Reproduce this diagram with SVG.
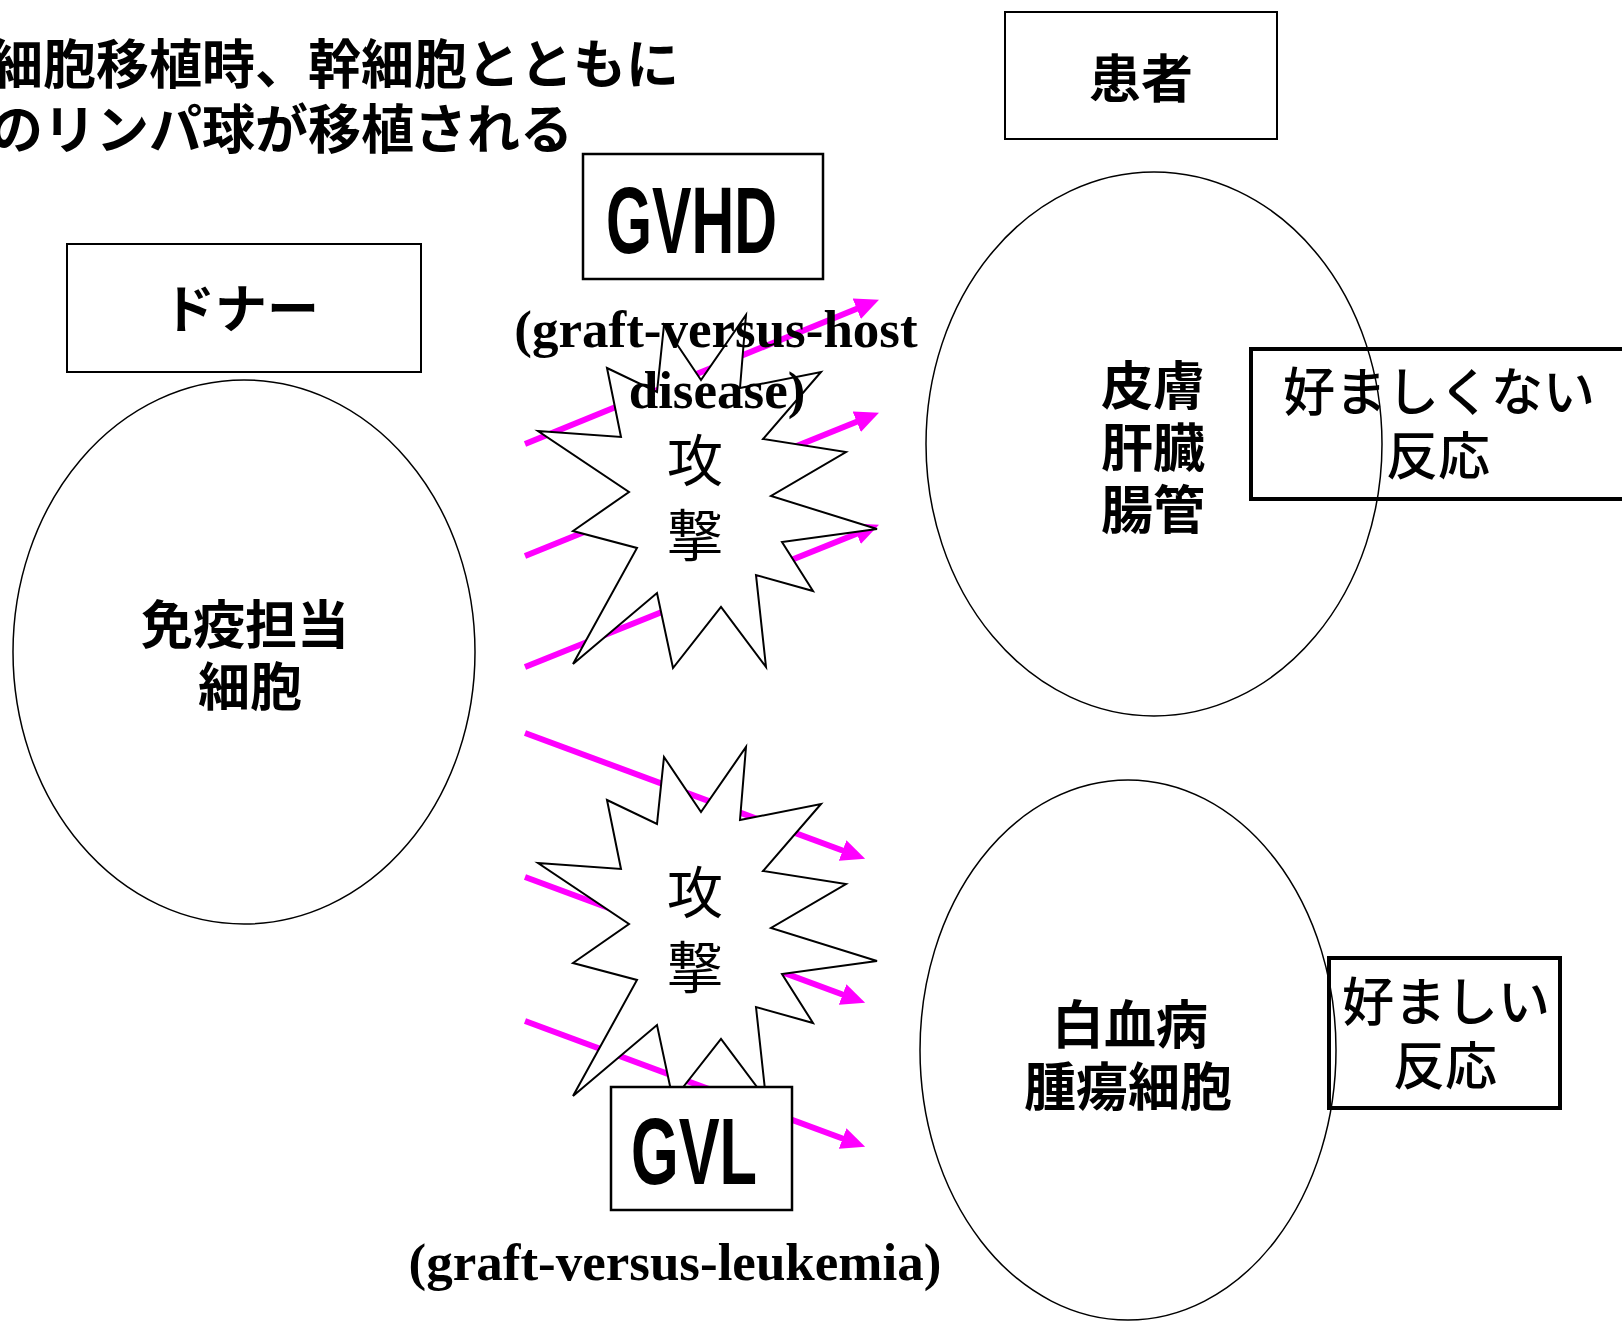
<svg xmlns="http://www.w3.org/2000/svg" width="1622" height="1323" viewBox="0 0 1622 1323">
<style>
.jp{font-family:"Noto Sans CJK JP","Noto Sans CJK SC",sans-serif;font-weight:bold;font-size:52px;fill:#000;text-anchor:middle}
.jpm{font-family:"Noto Sans CJK JP","Noto Sans CJK SC",sans-serif;font-weight:500;font-size:52px;fill:#000;text-anchor:middle}
.atk{font-family:"Noto Sans CJK JP","Noto Sans CJK SC",sans-serif;font-weight:normal;font-size:56px;fill:#000;text-anchor:middle}
.en{font-family:"Liberation Serif","Times New Roman",serif;font-weight:bold;font-size:53px;fill:#000;text-anchor:middle}
.abbr{font-family:"Liberation Sans",Arial,sans-serif;font-weight:bold;font-size:95px;fill:#000}
.box{fill:#fff;stroke:#000;stroke-width:2}
.tbox{fill:none;stroke:#000;stroke-width:4}
.ell{fill:none;stroke:#000;stroke-width:1.5}
.star{fill:#fff;stroke:#000;stroke-width:2;stroke-linejoin:miter}
.arr{stroke:#ff00ff;stroke-width:6;fill:none;marker-end:url(#ah)}
</style>
<defs>
<marker id="ah" markerUnits="userSpaceOnUse" viewBox="0 0 24 22" markerWidth="24" markerHeight="22" refX="10" refY="11" orient="auto">
<path d="M0,0 L24,11 L0,22 z" fill="#ff00ff"/>
</marker>
<polygon id="burst" points="607,368 657,392 664,325 701,380 746,315 740,388 821,372 763,439 846,452 771,496 877,529 782,542 813,591 756,575 766,667 721,607 673,668 657,593 573,664 637,548 573,531 629,492 538,431 621,437"/>
</defs>
<rect width="1622" height="1323" fill="#fff"/>

<g id="title">
<text class="jp" style="text-anchor:start;font-size:53px" x="-10" y="84">細胞移植時、幹細胞とともに</text>
<text class="jp" style="text-anchor:start;font-size:53px" x="-10" y="149">のリンパ球が移植される</text>
</g>

<g id="connectors">
<line class="arr" x1="525" y1="444" x2="866" y2="305"/>
<line class="arr" x1="525" y1="556" x2="866" y2="418"/>
<line class="arr" x1="525" y1="667" x2="866" y2="530"/>
<line class="arr" x1="525" y1="733" x2="852" y2="854"/>
<line class="arr" x1="525" y1="877" x2="852" y2="998"/>
<line class="arr" x1="525" y1="1021" x2="852" y2="1142"/>
</g>

<g id="donor-label">
<rect class="box" x="67" y="244" width="354" height="128"/>
<text class="jp" x="241" y="328">ドナー</text>
</g>

<g id="donor-cells">
<ellipse class="ell" cx="244" cy="652" rx="231" ry="272"/>
<text class="jp" x="245" y="644">免疫担当</text>
<text class="jp" x="250" y="706">細胞</text>
</g>

<g id="patient-label">
<rect class="box" x="1005" y="12" width="272" height="127"/>
<text class="jp" x="1141" y="98">患者</text>
</g>

<g id="organs">
<ellipse class="ell" cx="1154" cy="444" rx="228" ry="272"/>
<text class="jp" x="1153" y="405">皮膚</text>
<text class="jp" x="1153" y="467">肝臓</text>
<text class="jp" x="1153" y="529">腸管</text>
</g>

<g id="unfavorable">
<rect class="tbox" x="1251" y="349" width="380" height="150"/>
<text class="jpm" x="1439" y="411">好ましくない</text>
<text class="jpm" x="1438" y="475">反応</text>
</g>

<g id="leukemia">
<ellipse class="ell" cx="1128" cy="1050" rx="208" ry="270"/>
<text class="jp" x="1130" y="1044">白血病</text>
<text class="jp" x="1128" y="1106">腫瘍細胞</text>
</g>

<g id="favorable">
<rect class="tbox" x="1329" y="958" width="231" height="150"/>
<text class="jpm" x="1446" y="1021">好ましい</text>
<text class="jpm" x="1445" y="1085">反応</text>
</g>

<g id="attack-gvhd">
<use href="#burst" class="star"/>
<text class="atk" x="695" y="481">攻</text>
<text class="atk" x="695" y="556">撃</text>
</g>

<g id="attack-gvl">
<use href="#burst" class="star" transform="translate(0,432)"/>
<text class="atk" x="695" y="913">攻</text>
<text class="atk" x="695" y="988">撃</text>
</g>

<g id="gvhd">
<rect class="box" x="583" y="154" width="240" height="125" style="stroke-width:2.5"/>
<text class="abbr" x="606" y="253" textLength="171" lengthAdjust="spacingAndGlyphs">GVHD</text>
<text class="en" x="716" y="347">(graft-versus-host</text>
<text class="en" x="717" y="408">disease)</text>
</g>

<g id="gvl">
<rect class="box" x="611" y="1087" width="181" height="123" style="stroke-width:2.5"/>
<text class="abbr" x="631" y="1184" textLength="126" lengthAdjust="spacingAndGlyphs">GVL</text>
<text class="en" x="675" y="1280">(graft-versus-leukemia)</text>
</g>
</svg>
